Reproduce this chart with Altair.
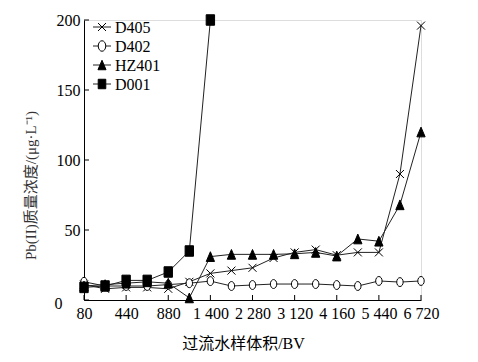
import altair as alt
import pandas as pd

# ---- data ----
x_tick_labels = ["80", "440", "880", "1 400", "2 280", "3 120", "4 160", "5 440", "6 720"]
sample_index = list(range(17))  # evenly spaced sampling points, ticks on every other one

series_names = ["D405", "D402", "HZ401", "D001"]
d405 = [11, 8, 9, 9, 8, 13, 19, 21, 23, 30, 34, 36, 32, 34, 34, 90, 196]
d402 = [13, 10, 10, 10, 11, 12, 13.5, 10, 10.7, 11.4, 11.4, 11.4, 10.7, 10, 13.6, 12.8, 13.6]
hz401 = [10, 11, 12, 13, 12, 1.5, 31, 32.6, 32.6, 32.6, 33, 34, 31.4, 43.6, 42, 68, 120]
d001 = [9, 10, 14, 14, 20, 35, 200]
y_ticks = [0, 50, 100, 150, 200]

series_values = [d405, d402, hz401, d001]

rows = []
for name, vals in zip(series_names, series_values):
    for i, v in zip(sample_index, vals):
        rows.append({"series": name, "idx": i, "value": v})
df = pd.DataFrame(rows)

FONT = "Liberation Serif, Times New Roman, Noto Sans CJK SC"

shapes = [
    "M-1,-1L1,1M-1,1L1,-1",
    "M0,-1A0.72,1 0 1,1 0,1A0.72,1 0 1,1 0,-1Z",
    "M0,-1L0.85,1L-0.85,1Z",
    "M-0.8,-1H0.8V1H-0.8Z",
]
fills = ["black", "white", "black", "black"]
sizes = [64, 110, 90, 90]

W, H = 337, 280
label_expr = "[" + ",".join("'%s'" % s for s in x_tick_labels) + "][datum.value / 2]"
x_tick_vals = [2 * i for i in range(len(x_tick_labels))]

x_enc = alt.X(
    "idx:Q",
    scale=alt.Scale(domain=[0, 16], nice=False, zero=False),
    axis=alt.Axis(
        values=x_tick_vals, labelExpr=label_expr, grid=False, ticks=False,
        labelOverlap=False, labelFlush=False, labelBound=False,
        domainColor="black", labelFont=FONT, labelFontSize=16, labelColor="black",
        labelPadding=5, title="过流水样体积/BV", titleFont=FONT, titleFontSize=16,
        titleFontWeight="normal", titleColor="black", titlePadding=14, titleX=159,
    ),
)
y_enc = alt.Y(
    "value:Q",
    scale=alt.Scale(domain=[0, 200], nice=False),
    axis=alt.Axis(
        values=y_ticks, grid=False, ticks=False, domainColor="black",
        labelOverlap=False, labelFlush=False, labelBound=False,
        labelFont=FONT, labelFontSize=16, labelColor="black",
        labelPadding={"condition": {"test": "datum.value === 0", "value": 22}, "value": 4},
        labelOffset={"condition": {"test": "datum.value === 0", "value": 3}, "value": 0},
        title="Pb(II)质量浓度/(μg·L⁻¹)", titleFont=FONT, titleFontSize=15,
        titleFontWeight="normal", titleColor="#333", titlePadding=16, titleY=165,
    ),
)

lines = alt.Chart(df).mark_line(color="#222", strokeWidth=1).encode(
    x=x_enc, y=y_enc, detail="series:N"
)
points = alt.Chart(df).mark_point(filled=True, stroke="black", strokeWidth=1, opacity=1).encode(
    x="idx:Q",
    y="value:Q",
    shape=alt.Shape("series:N", scale=alt.Scale(domain=series_names, range=shapes), legend=None),
    fill=alt.Fill("series:N", scale=alt.Scale(domain=series_names, range=fills), legend=None),
    size=alt.Size("series:N", scale=alt.Scale(domain=series_names, range=sizes), legend=None),
)

# inward axis ticks
yt = alt.Chart(pd.DataFrame({"v": y_ticks})).mark_rule(color="black", strokeWidth=1).encode(
    y="v:Q", x=alt.value(0), x2=alt.value(5)
)
xt = alt.Chart(pd.DataFrame({"i": x_tick_vals})).mark_rule(color="black", strokeWidth=1).encode(
    x="i:Q", y=alt.value(H), y2=alt.value(H - 5)
)

# legend inside the plot, top-left
legend_layers = []
for k, name in enumerate(series_names):
    yy = 7 + 19 * k
    d = pd.DataFrame({"series": [name]})
    legend_layers.append(
        alt.Chart(d).mark_rule(color="#222", strokeWidth=1).encode(
            x=alt.value(9), x2=alt.value(27), y=alt.value(yy)
        )
    )
    legend_layers.append(
        alt.Chart(d).mark_point(shape=shapes[k], size=sizes[k], filled=True, fill=fills[k],
                                stroke="black", strokeWidth=1, opacity=1).encode(
            x=alt.value(18), y=alt.value(yy)
        )
    )
    legend_layers.append(
        alt.Chart(d).mark_text(align="left", baseline="middle", font=FONT, fontSize=16,
                               color="black").encode(
            x=alt.value(31), y=alt.value(yy + 1), text="series:N"
        )
    )

chart = alt.layer(lines, points, yt, xt, *legend_layers).properties(
    width=W, height=H,
    autosize=alt.AutoSizeParams(type="none"),
    padding={"left": 76, "top": 12, "right": 49, "bottom": 54},
).configure_view(stroke=None).configure(background="white")

chart.save("out.html", embed_options={"renderer": "svg", "actions": False})
